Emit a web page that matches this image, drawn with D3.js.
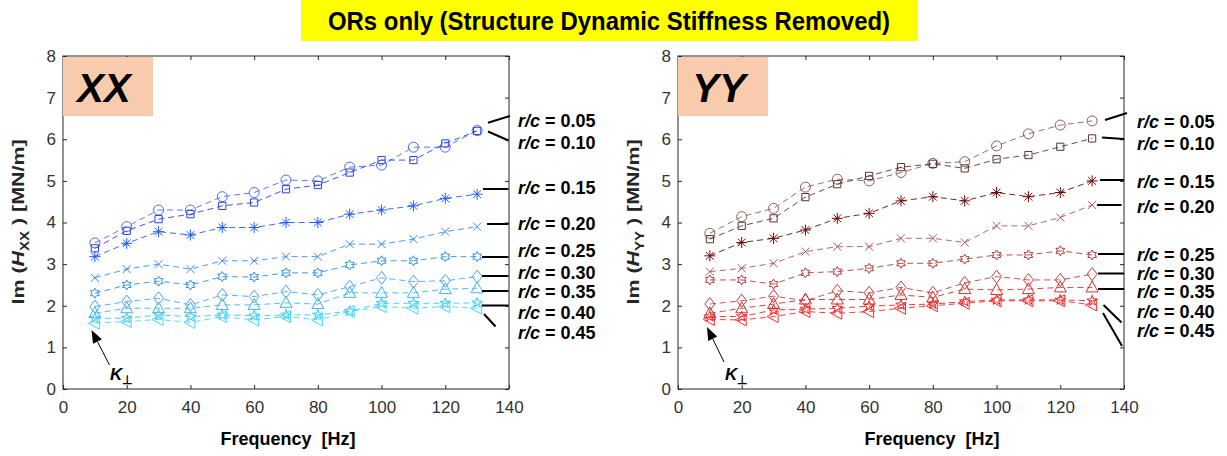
<!DOCTYPE html>
<html>
<head>
<meta charset="utf-8">
<script src="https://cdn.jsdelivr.net/npm/d3@7"></script>
<style>
  html, body { margin: 0; padding: 0; background: #fff; }
  svg { display: block; }
  text { font-family: "Liberation Sans", Arial, sans-serif; }
</style>
</head>
<body>
<svg id="chart" width="1227" height="456"></svg>
<script>
// ---------------- DATA ----------------
const freq = [10, 20, 30, 40, 50, 60, 70, 80, 90, 100, 110, 120, 130];
const rcLabels = ["0.05", "0.10", "0.15", "0.20", "0.25", "0.30", "0.35", "0.40", "0.45"];
const xTicks = [0, 20, 40, 60, 80, 100, 120, 140];
const yTicks = [0, 1, 2, 3, 4, 5, 6, 7, 8];

// Im(H_XX) [MN/m]
const xx005 = [3.51, 3.90, 4.30, 4.30, 4.62, 4.72, 5.02, 5.00, 5.33, 5.38, 5.81, 5.81, 6.21];
const xx010 = [3.38, 3.80, 4.08, 4.20, 4.40, 4.48, 4.80, 4.90, 5.20, 5.50, 5.50, 5.90, 6.20];
const xx015 = [3.18, 3.50, 3.78, 3.70, 3.88, 3.88, 4.00, 4.00, 4.20, 4.30, 4.40, 4.58, 4.68];
const xx020 = [2.67, 2.88, 3.00, 2.88, 3.08, 3.08, 3.18, 3.18, 3.48, 3.48, 3.60, 3.78, 3.90];
const xx025 = [2.30, 2.50, 2.59, 2.50, 2.70, 2.69, 2.79, 2.79, 2.98, 3.08, 3.08, 3.18, 3.18];
const xx030 = [1.98, 2.10, 2.18, 2.02, 2.26, 2.22, 2.34, 2.26, 2.46, 2.67, 2.58, 2.60, 2.70];
const xx035 = [1.82, 1.94, 1.94, 1.94, 2.02, 2.02, 2.07, 2.04, 2.31, 2.31, 2.31, 2.40, 2.42];
const xx040 = [1.70, 1.70, 1.78, 1.74, 1.78, 1.76, 1.78, 1.78, 1.87, 2.06, 2.06, 2.06, 2.07];
const xx045 = [1.58, 1.62, 1.67, 1.60, 1.74, 1.66, 1.74, 1.66, 1.86, 1.98, 1.94, 1.98, 1.94];

// Im(H_YY) [MN/m]
const yy005 = [3.74, 4.14, 4.34, 4.85, 5.04, 5.00, 5.20, 5.42, 5.46, 5.84, 6.13, 6.34, 6.44];
const yy010 = [3.60, 3.92, 4.10, 4.61, 4.92, 5.12, 5.33, 5.41, 5.30, 5.52, 5.62, 5.82, 6.02];
const yy015 = [3.20, 3.52, 3.62, 3.82, 4.10, 4.22, 4.52, 4.62, 4.52, 4.72, 4.62, 4.72, 5.00];
const yy020 = [2.82, 2.90, 3.02, 3.30, 3.42, 3.42, 3.62, 3.62, 3.52, 3.92, 3.92, 4.12, 4.42];
const yy025 = [2.62, 2.62, 2.52, 2.79, 2.82, 2.90, 3.02, 3.02, 3.12, 3.22, 3.22, 3.32, 3.22];
const yy030 = [2.04, 2.12, 2.23, 2.12, 2.36, 2.31, 2.44, 2.31, 2.55, 2.70, 2.62, 2.62, 2.76];
const yy035 = [1.82, 1.94, 2.04, 2.15, 2.15, 2.15, 2.26, 2.20, 2.40, 2.38, 2.40, 2.44, 2.44];
const yy040 = [1.74, 1.74, 1.90, 1.92, 1.94, 1.99, 2.02, 2.04, 2.10, 2.14, 2.14, 2.14, 2.12];
const yy045 = [1.67, 1.66, 1.74, 1.86, 1.82, 1.86, 1.94, 2.00, 2.06, 2.12, 2.12, 2.12, 2.02];

const xxSeries = [xx005, xx010, xx015, xx020, xx025, xx030, xx035, xx040, xx045];
const yySeries = [yy005, yy010, yy015, yy020, yy025, yy030, yy035, yy040, yy045];

// ---------------- STYLE ----------------
const markerTypes = ["circle", "square", "asterisk", "cross", "hexagram", "diamond", "triUp", "pentagram", "triLeft"];
const xxColors = ["#4a6aff", "#2a40e8", "#1f5cff", "#3a8cf2", "#2f90ea", "#45a6f0", "#3cb4f2", "#38c6f2", "#45d8ff"];
const yyColors = ["#8c5c5c", "#5a3434", "#6e0a0a", "#a85858", "#b03c3c", "#c44040", "#d43030", "#e02828", "#ff2a2a"];

function starPath(n, R, r) {
  let pts = [];
  for (let i = 0; i < 2 * n; i++) {
    const a = -Math.PI / 2 + i * Math.PI / n;
    const rad = i % 2 === 0 ? R : r;
    pts.push([rad * Math.cos(a), rad * Math.sin(a)]);
  }
  return "M" + pts.map(p => p[0].toFixed(2) + "," + p[1].toFixed(2)).join("L") + "Z";
}
function markerPath(t) {
  switch (t) {
    case "circle": { const r = 5; return `M${-r},0a${r},${r} 0 1,0 ${2*r},0a${r},${r} 0 1,0 ${-2*r},0Z`; }
    case "square": { const h = 3.6; return `M${-h},${-h}H${h}V${h}H${-h}Z`; }
    case "asterisk": { const r = 5.5, d = r * 0.7071; return `M${-r},0H${r}M0,${-r}V${r}M${-d},${-d}L${d},${d}M${-d},${d}L${d},${-d}`; }
    case "cross": { const d = 4; return `M${-d},${-d}L${d},${d}M${-d},${d}L${d},${-d}`; }
    case "hexagram": return starPath(6, 5, 2.9);
    case "diamond": return "M0,-6.5L5,0L0,6.5L-5,0Z";
    case "triUp": return "M0,-6.5L6,4.5L-6,4.5Z";
    case "pentagram": return starPath(5, 5.5, 2.3);
    case "triLeft": return "M-6.5,0L4.5,-6L4.5,6Z";
  }
}

const svg = d3.select("#chart");
const FONT = '"Liberation Sans", Arial, sans-serif';
const AXC = "#262626";

// Title
svg.append("rect").attr("x", 301).attr("y", 0).attr("width", 617).attr("height", 41).attr("fill", "#ffff00");
svg.append("text").attr("x", 609).attr("y", 30).attr("text-anchor", "middle")
  .style("font-family", '"Liberation Sans Narrow", "Liberation Sans", Arial, sans-serif')
  .style("font-weight", "bold").style("font-size", "25px")
  .attr("textLength", 562).attr("lengthAdjust", "spacingAndGlyphs")
  .text("ORs only (Structure Dynamic Stiffness Removed)");

function drawPanel(cfg) {
  const x = d3.scaleLinear().domain([0, 140]).range([cfg.x0, cfg.x0 + 446]);
  const y = d3.scaleLinear().domain([0, 8]).range([389, 56]);
  const g = svg.append("g");

  // frame
  g.append("rect").attr("x", x(0)).attr("y", y(8)).attr("width", x(140) - x(0)).attr("height", y(0) - y(8))
    .attr("fill", "none").attr("stroke", AXC).attr("stroke-width", 1);

  const style = sel => {
    sel.select(".domain").remove();
    sel.selectAll(".tick line").attr("stroke", AXC);
    sel.selectAll(".tick text").style("font-family", FONT).style("font-size", "17px").attr("fill", "#333");
  };
  g.append("g").attr("transform", `translate(0,${y(0)})`)
    .call(d3.axisBottom(x).tickValues(xTicks).tickSizeInner(-4).tickSizeOuter(0).tickPadding(12)).call(style);
  g.append("g").attr("transform", `translate(0,${y(8)})`)
    .call(d3.axisTop(x).tickValues(xTicks).tickSizeInner(-4).tickSizeOuter(0).tickFormat("")).call(style);
  g.append("g").attr("transform", `translate(${x(0)},0)`)
    .call(d3.axisLeft(y).tickValues(yTicks).tickSizeInner(-4).tickSizeOuter(0).tickPadding(7)).call(style);
  g.append("g").attr("transform", `translate(${x(140)},0)`)
    .call(d3.axisRight(y).tickValues(yTicks).tickSizeInner(-4).tickSizeOuter(0).tickFormat("")).call(style);

  // series
  const line = d3.line().x((d, i) => x(freq[i])).y(d => y(d));
  cfg.series.forEach((vals, k) => {
    const col = cfg.colors[k];
    g.append("path").datum(vals).attr("d", line).attr("fill", "none")
      .attr("stroke", col).attr("stroke-width", 1).attr("stroke-dasharray", "6,4").attr("opacity", 0.9);
    g.selectAll(null).data(vals).enter().append("path")
      .attr("transform", (d, i) => `translate(${x(freq[i])},${y(d)})`)
      .attr("d", markerPath(markerTypes[k]))
      .attr("fill", "none").attr("stroke", col).attr("stroke-width", 1);
  });

  // panel tag box
  g.append("rect").attr("x", cfg.x0).attr("y", 57).attr("width", 90).attr("height", 59).attr("fill", "#f8cbad");
  g.append("text").attr("x", cfg.x0 + 41).attr("y", 102).attr("text-anchor", "middle")
    .style("font-weight", "bold").style("font-style", "italic").style("font-size", "40px").attr("fill", "#000")
    .text(cfg.tag);

  // y label
  const yl = g.append("text").attr("transform", `translate(${cfg.ylabX},222) rotate(-90)`).attr("text-anchor", "middle")
    .style("font-weight", "bold").style("font-size", "17px").attr("fill", AXC)
    .attr("textLength", 165).attr("lengthAdjust", "spacingAndGlyphs");
  yl.append("tspan").text("Im (");
  yl.append("tspan").style("font-style", "italic").text("H");
  yl.append("tspan").attr("dy", 5).style("font-size", "12px").text(cfg.tag);
  yl.append("tspan").attr("dy", -5).text(" ) [MN/m]");

  // x label
  g.append("text").attr("x", cfg.xlabX).attr("y", 445).attr("text-anchor", "middle")
    .style("font-weight", "bold").style("font-size", "18px").attr("fill", "#000")
    .attr("xml:space", "preserve").text("Frequency  [Hz]");

  // leader lines and r/c labels
  cfg.leaders.forEach(l => {
    g.append("line").attr("x1", l[0]).attr("y1", l[1]).attr("x2", l[2]).attr("y2", l[3])
      .attr("stroke", "#000").attr("stroke-width", 2);
  });
  cfg.labelY.forEach((ly, k) => {
    const t = g.append("text").attr("x", cfg.labelX).attr("y", ly + 6.5)
      .style("font-weight", "bold").style("font-size", "18px").attr("fill", "#000");
    t.append("tspan").style("font-style", "italic").text("r/c");
    t.append("tspan").text(" = " + rcLabels[k]);
  });

  // K-perp annotation
  const a = cfg.arrow;
  const ang = Math.atan2(a[1] - a[3], a[0] - a[2]);
  const L = 13, W = 5;
  const bx = a[0] - L * Math.cos(ang), by = a[1] - L * Math.sin(ang);
  g.append("line").attr("x1", bx).attr("y1", by).attr("x2", a[2]).attr("y2", a[3])
    .attr("stroke", "#000").attr("stroke-width", 1);
  g.append("path").attr("d", `M${a[0]},${a[1]}L${bx + W * Math.sin(ang)},${by - W * Math.cos(ang)}L${bx - W * Math.sin(ang)},${by + W * Math.cos(ang)}Z`)
    .attr("fill", "#000");
  const kt = g.append("text").attr("x", cfg.kX).attr("y", 380)
    .style("font-weight", "bold").style("font-size", "17px").attr("fill", "#000");
  kt.append("tspan").style("font-style", "italic").text("K");
  kt.append("tspan").attr("dy", 4).style("font-size", "12px").text("\u22A5");
}

drawPanel({
  x0: 63, tag: "XX", series: xxSeries, colors: xxColors, ylabX: 24, xlabX: 288,
  labelX: 518,
  labelY: [120, 142, 187, 223, 250, 272, 291, 312, 332],
  leaders: [[488, 122.7, 510, 116], [488, 131.5, 508.5, 140.5], [483, 189, 508.5, 189], [487, 224, 508.5, 224],
            [482, 257, 508.5, 257], [482, 276, 508.5, 276], [482, 291, 508.5, 291], [482, 305.5, 508.5, 305.5],
            [484, 314, 495.5, 326.5]],
  arrow: [91.5, 330, 109.5, 365], kX: 110
});
drawPanel({
  x0: 678, tag: "YY", series: yySeries, colors: yyColors, ylabX: 639, xlabX: 932,
  labelX: 1137,
  labelY: [121.5, 143, 181, 206, 254, 273, 291.5, 311, 330],
  leaders: [[1105, 120, 1127, 113], [1102, 137.5, 1124, 139], [1100, 180, 1124, 180], [1097, 205, 1121.5, 205],
            [1098, 254, 1124, 254], [1098, 273.5, 1124, 273.5], [1098, 289, 1124, 289], [1103.5, 305, 1121.5, 322.5],
            [1103, 313, 1122, 346]],
  arrow: [707, 327, 724, 362], kX: 725
});
</script>
</body>
</html>
